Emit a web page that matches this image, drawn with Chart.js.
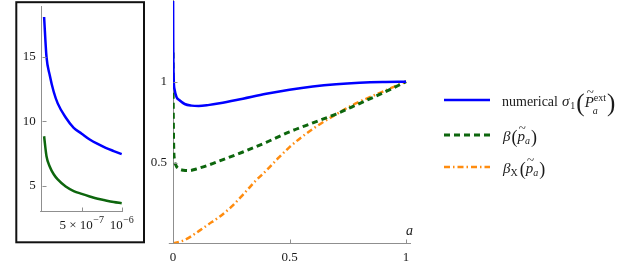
<!DOCTYPE html>
<html>
<head>
<meta charset="utf-8">
<script src="https://cdn.jsdelivr.net/npm/chart.js@4.4.1/dist/chart.umd.min.js"></script>
<style>
  html, body { margin: 0; padding: 0; background: #fff; }
  body { width: 622px; height: 269px; position: relative; overflow: hidden; }
  canvas { position: absolute; left: 0; top: 0; }
</style>
</head>
<body>
<canvas id="insetChart" width="150" height="269"></canvas>
<canvas id="mainChart" width="622" height="269"></canvas>
<script>
// main plot: a in [0, 1]
const blueA = [0, 0.001, 0.003, 0.007, 0.015, 0.028, 0.05, 0.08, 0.11, 0.15, 0.2, 0.3, 0.4, 0.5, 0.6, 0.7, 0.8, 0.9, 1];
const blueVals = [1.7, 1.25, 1.02, 0.95, 0.905, 0.885, 0.862, 0.852, 0.85, 0.855, 0.866, 0.895, 0.925, 0.95, 0.97, 0.984, 0.993, 0.998, 1.0];

const greenA = [0, 0.001, 0.003, 0.006, 0.012, 0.025, 0.045, 0.07, 0.1, 0.15, 0.2, 0.3, 0.4, 0.5, 0.6, 0.7, 0.8, 0.9, 1];
const greenVals = [1.18, 0.85, 0.6, 0.52, 0.485, 0.462, 0.452, 0.45, 0.46, 0.483, 0.51, 0.565, 0.625, 0.69, 0.745, 0.8, 0.865, 0.93, 1.0];

const orangeA = [0, 0.05, 0.1, 0.15, 0.2, 0.25, 0.3, 0.35, 0.4, 0.45, 0.5, 0.55, 0.6, 0.65, 0.7, 0.75, 0.8, 0.85, 0.9, 0.95, 1];
const orangeVals = [0, 0.02, 0.065, 0.115, 0.165, 0.225, 0.3, 0.38, 0.45, 0.525, 0.595, 0.655, 0.708, 0.755, 0.798, 0.84, 0.876, 0.908, 0.938, 0.97, 1.0];

const mainXTicks = [0, 0.5, 1];
const mainYTicks = [0.5, 1];

// inset: a in [0, 1e-6]
const insetA = [3e-8, 6e-8, 1e-7, 1.5e-7, 2e-7, 3e-7, 4e-7, 5e-7, 6e-7, 7e-7, 8e-7, 9e-7, 1e-6];
const insetBlue = [18.1, 15.0, 13.6, 12.3, 11.4, 10.3, 9.5, 9.05, 8.6, 8.25, 7.95, 7.7, 7.46];
const insetGreen = [8.85, 7.3, 6.5, 5.9, 5.5, 4.95, 4.6, 4.38, 4.18, 4.0, 3.87, 3.75, 3.65];

const insetXTicks = [5e-7, 1e-6];
const insetXMant = ["5 \u00d7 10", "10"];
const insetXExp = ["\u22127", "\u22126"];
const insetYTicks = [5, 10, 15];

const serif = "'Liberation Serif', 'DejaVu Serif', serif";
const axisGray = "#8f8f8f";
const textColor = "#1a1a1a";
const blue = "#0000ff";
const green = "#0d660d";
const orange = "#ff8c0f";

const toPoints = (xs, ys) => xs.map((x, i) => ({ x: x, y: ys[i] }));
const fmt = (v) => String(+Number(v).toFixed(3));

// inward tick marks like Mathematica axes, plus the short stub of x axis left of origin
const drawAxisBits = (chart, xTicks, yTicks, stub) => {
  const ctx = chart.ctx;
  const sx = chart.scales.x;
  const sy = chart.scales.y;
  const x0 = Math.round(sx.getPixelForValue(0)) + 0.5;
  const yb = Math.round(sy.bottom) + 0.5;
  ctx.save();
  ctx.strokeStyle = axisGray;
  ctx.lineWidth = 1;
  ctx.beginPath();
  ctx.moveTo(x0 - stub, yb);
  ctx.lineTo(x0, yb);
  xTicks.forEach((v) => {
    const px = Math.round(sx.getPixelForValue(v)) + 0.5;
    ctx.moveTo(px, yb);
    ctx.lineTo(px, yb - 4);
  });
  yTicks.forEach((v) => {
    const py = Math.round(sy.getPixelForValue(v)) + 0.5;
    ctx.moveTo(x0, py);
    ctx.lineTo(x0 + 4, py);
  });
  ctx.stroke();
  ctx.restore();
};

// text with sub/superscripts, drawn piece by piece
const drawRich = (ctx, x, y, parts) => {
  let cx = x;
  let last = { x: x, w: 0 };
  parts.forEach((p) => {
    ctx.font = p.f;
    const w = ctx.measureText(p.t).width;
    if (p.over) {
      ctx.fillText(p.t, last.x + (last.w - w) / 2 + (p.dx || 0), y + p.dy);
      return;
    }
    const px = (p.stack ? last.x : cx) + (p.gap || 0);
    ctx.fillText(p.t, px, y + (p.dy || 0));
    if (p.stack) {
      cx = Math.max(cx, px + w);
    } else {
      last = { x: px, w: w };
      cx = px + w;
    }
  });
};

const legendPlugin = {
  id: "legendAndLabel",
  afterDraw: (chart) => {
    drawAxisBits(chart, mainXTicks, mainYTicks, 4.7);
    const ctx = chart.ctx;
    ctx.save();
    ctx.fillStyle = textColor;
    ctx.textBaseline = "alphabetic";
    ctx.textAlign = "left";

    // axis label
    ctx.font = "italic 14px " + serif;
    ctx.fillText("a", 406, 235);

    // legend lines
    const lx0 = 444;
    const lx1 = 490;
    const rows = [
      { y: 100, color: blue, dash: [], width: 2.5 },
      { y: 135, color: green, dash: [6, 4], width: 3 },
      { y: 167, color: orange, dash: [6, 3, 1.5, 3], width: 2.5 },
    ];
    rows.forEach((r) => {
      ctx.beginPath();
      ctx.strokeStyle = r.color;
      ctx.lineWidth = r.width;
      ctx.setLineDash(r.dash);
      ctx.moveTo(lx0, r.y);
      ctx.lineTo(lx1, r.y);
      ctx.stroke();
    });
    ctx.setLineDash([]);

    const it = (s) => "italic " + s + "px " + serif;
    const rm = (s) => s + "px " + serif;
    drawRich(ctx, 502, 105.5, [
      { t: "numerical", f: rm(14) },
      { t: "\u03c3", f: it(15), gap: 4 },
      { t: "1", f: rm(10), dy: 3, gap: 1 },
      { t: "(", f: rm(25), dy: 5, gap: 1 },
      { t: "P", f: it(15), dy: 1 },
      { t: "~", f: rm(13), over: true, dy: -10, dx: 1 },
      { t: "ext", f: rm(10), dy: -5, gap: 0 },
      { t: "a", f: it(10), dy: 8, stack: true, gap: -1 },
      { t: ")", f: rm(25), dy: 5, gap: 1 },
    ]);
    drawRich(ctx, 503, 141, [
      { t: "\u03b2", f: it(15) },
      { t: "(", f: rm(18), dy: 2, gap: 1 },
      { t: "p", f: it(15) },
      { t: "~", f: rm(13), over: true, dy: -9, dx: 1 },
      { t: "a", f: it(10), dy: 3 },
      { t: ")", f: rm(18), dy: 2, gap: 1 },
    ]);
    drawRich(ctx, 503, 173, [
      { t: "\u03b2", f: it(15) },
      { t: "X", f: rm(10), dy: 3 },
      { t: "(", f: rm(18), dy: 2, gap: 2 },
      { t: "p", f: it(15) },
      { t: "~", f: rm(13), over: true, dy: -9, dx: 1 },
      { t: "a", f: it(10), dy: 3 },
      { t: ")", f: rm(18), dy: 2, gap: 1 },
    ]);
    ctx.restore();
  },
};

const insetPlugin = {
  id: "insetFrame",
  afterDraw: (chart) => {
    drawAxisBits(chart, insetXTicks, insetYTicks, 2.4);
    const ctx = chart.ctx;
    const sx = chart.scales.x;
    ctx.save();
    // x tick labels with real superscripts
    ctx.fillStyle = textColor;
    ctx.textBaseline = "alphabetic";
    ctx.textAlign = "left";
    insetXTicks.forEach((v, i) => {
      ctx.font = "13px " + serif;
      const w1 = ctx.measureText(insetXMant[i]).width;
      ctx.font = "10px " + serif;
      const w2 = ctx.measureText(insetXExp[i]).width;
      const left = sx.getPixelForValue(v) - (w1 + w2 + 0.5) / 2;
      drawRich(ctx, left, 229, [
        { t: insetXMant[i], f: "13px " + serif },
        { t: insetXExp[i], f: "10px " + serif, dy: -6, gap: 0.5 },
      ]);
    });
    ctx.strokeStyle = "#111";
    ctx.lineWidth = 2;
    ctx.strokeRect(16.3, 2.2, 127.7, 240.1);
    ctx.restore();
  },
};

const axisOpts = (min, max, ticksList, extra) => {
  return {
    type: "linear",
    min: min,
    max: max,
    afterBuildTicks: (s) => {
      s.ticks = ticksList.map((v) => ({ value: v }));
    },
    grid: { display: false, drawTicks: false },
    border: { display: true, color: axisGray, width: 1 },
    ...extra,
  };
};

new Chart(document.getElementById("mainChart"), {
  type: "line",
  data: {
    datasets: [
      {
        label: "numerical",
        data: toPoints(blueA, blueVals),
        borderColor: blue,
        borderWidth: 2.5,
        pointRadius: 0,
        cubicInterpolationMode: "monotone",
      },
      {
        label: "beta",
        data: toPoints(greenA, greenVals),
        borderColor: green,
        borderWidth: 3,
        borderDash: [6, 4],
        pointRadius: 0,
        cubicInterpolationMode: "monotone",
      },
      {
        label: "betaX",
        data: toPoints(orangeA, orangeVals),
        borderColor: orange,
        borderWidth: 2.5,
        borderDash: [6, 3, 1.5, 3],
        pointRadius: 0,
        cubicInterpolationMode: "monotone",
      },
    ],
  },
  options: {
    responsive: false,
    animation: false,
    devicePixelRatio: 1,
    layout: {
      autoPadding: false,
      padding: { left: 143, right: 211.3, top: 0.9, bottom: 0 },
    },
    plugins: { legend: { display: false }, tooltip: { enabled: false } },
    scales: {
      x: axisOpts(0, 1.02, mainXTicks, {
        position: "bottom",
        afterFit: (s) => {
          s.height = 25.7;
          s.paddingLeft = 0;
          s.paddingRight = 0;
        },
        ticks: {
          font: { family: serif, size: 13 },
          color: textColor,
          padding: 6,
          maxRotation: 0,
          autoSkip: false,
          callback: fmt,
        },
      }),
      y: axisOpts(0, 1.5, mainYTicks, {
        position: "left",
        afterFit: (s) => {
          s.width = 30;
          s.paddingTop = 0;
          s.paddingBottom = 0;
        },
        ticks: {
          font: { family: serif, size: 13 },
          color: textColor,
          padding: 6,
          autoSkip: false,
          callback: fmt,
        },
      }),
    },
  },
  plugins: [legendPlugin],
});

new Chart(document.getElementById("insetChart"), {
  type: "line",
  data: {
    datasets: [
      {
        label: "numerical",
        data: toPoints(insetA, insetBlue),
        borderColor: blue,
        borderWidth: 2.5,
        pointRadius: 0,
        cubicInterpolationMode: "monotone",
      },
      {
        label: "beta",
        data: toPoints(insetA, insetGreen),
        borderColor: green,
        borderWidth: 2.5,
        pointRadius: 0,
        cubicInterpolationMode: "monotone",
      },
    ],
  },
  options: {
    responsive: false,
    animation: false,
    devicePixelRatio: 1,
    layout: {
      autoPadding: false,
      padding: { left: 16.7, right: 27.5, top: 6.7, bottom: 0 },
    },
    plugins: { legend: { display: false }, tooltip: { enabled: false } },
    scales: {
      x: axisOpts(0, 1.01e-6, insetXTicks, {
        position: "bottom",
        afterFit: (s) => {
          s.height = 58;
          s.paddingLeft = 0;
          s.paddingRight = 0;
        },
        ticks: {
          display: false,
        },
      }),
      y: axisOpts(3.05, 18.9, insetYTicks, {
        position: "left",
        afterFit: (s) => {
          s.width = 25;
          s.paddingTop = 0;
          s.paddingBottom = 0;
        },
        ticks: {
          font: { family: serif, size: 13 },
          color: textColor,
          padding: 6,
          autoSkip: false,
        },
      }),
    },
  },
  plugins: [insetPlugin],
});
</script>
</body>
</html>
